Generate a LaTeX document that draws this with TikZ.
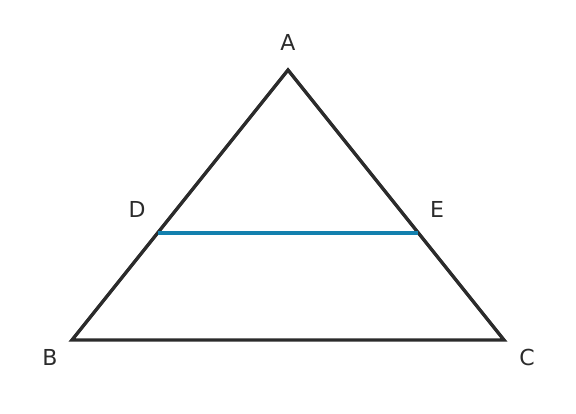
\documentclass[tikz,border=0pt]{standalone}
\usepackage{fontspec}
\setmainfont{DejaVu Sans}
\usetikzlibrary{calc}
\definecolor{edge}{HTML}{2B2B2B}
\definecolor{mid}{HTML}{1380AE}
\begin{document}
\begin{tikzpicture}[x=1pt,y=-1pt,
  lbl/.style={font=\fontsize{22}{22}\selectfont,text=edge,inner sep=0pt},
  side/.style={draw=edge,line width=3.4pt,line join=miter},
  midline/.style={draw=mid,line width=3.4pt}]
\useasboundingbox (0,0) rectangle (576,413);
\coordinate (A) at (288,70);
\coordinate (B) at (72,340);
\coordinate (C) at (504,340);
\coordinate (D) at ($(A)!0.6037!(B)$);
\coordinate (E) at ($(A)!0.6037!(C)$);
\path[side] (A) -- (B) -- (C) -- cycle;
\path[midline] (D) -- (E);
\node[lbl] (la) at (288,42) {A};
\node[lbl] (lb) at (50,357) {B};
\node[lbl] (lc) at (527,357) {C};
\node[lbl] (ld) at (137,209) {D};
\node[lbl] (le) at (437,209) {E};
\end{tikzpicture}
\end{document}
